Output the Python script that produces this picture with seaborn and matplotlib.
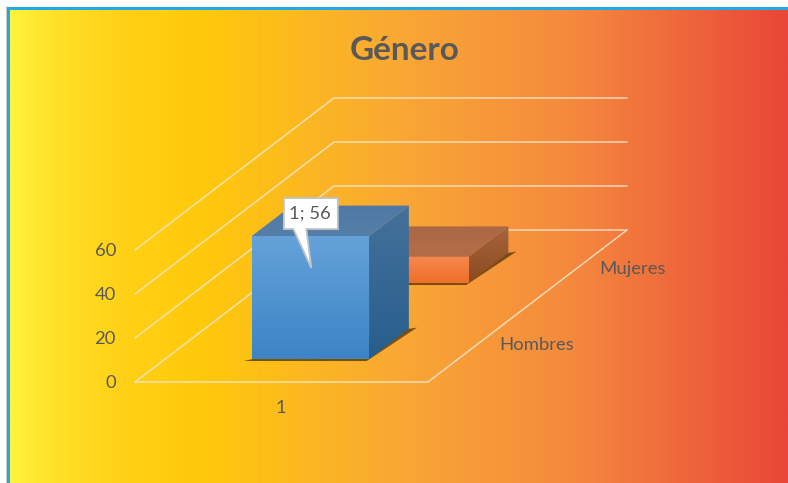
import numpy as np
import pandas as pd
import matplotlib.pyplot as plt
from matplotlib.colors import LinearSegmentedColormap
from matplotlib.patches import Polygon, Rectangle
import seaborn as sns

# chart values
category = "1"
series_names = ["Hombres", "Mujeres"]
series_values = [56, 12]
value_ticks = [0, 20, 40, 60]
data_label = "1; 56"
title = "Género"

sns.set_theme(style="white")
plt.rcParams["font.family"] = ["Lato", "DejaVu Sans"]
text_color = "#595959"

# oblique projection of the floor and walls, in pixels
origin = np.array([135.0, 382.0])
width_vec = np.array([293.0, 0.0])
depth_vec = np.array([199.0, -152.0])
px_per_unit = 2.2


def project(x, d, v):
    p = origin + x * width_vec + d * depth_vec
    return (p[0], p[1] - v * px_per_unit)


fig = plt.figure(figsize=(7.88, 4.83), dpi=100)
ax = fig.add_axes([0, 0, 1, 1])
ax.set_xlim(0, 788)
ax.set_ylim(483, 0)
ax.axis("off")

# background
bg = LinearSegmentedColormap.from_list(
    "bg",
    [(0, "#fff33b"), (0.06, "#ffe026"), (0.15, "#ffd015"), (0.25, "#ffc90c"),
     (0.5, "#f9a834"), (0.72, "#f58a3e"), (1, "#e94738")],
)
ax.imshow(np.linspace(0, 1, 780)[None, :], cmap=bg, extent=(9, 788, 483, 9), aspect="auto", zorder=0)
ax.add_patch(Rectangle((7, 7), 781, 2.6, fc="#22aae6", ec="none", zorder=1))
ax.add_patch(Rectangle((7, 7), 2.6, 476, fc="#22aae6", ec="none", zorder=1))
ax.add_patch(Rectangle((6.2, 6.4), 0.9, 476.6, fc="#c4c8ca", ec="none", zorder=1))
ax.set_xlim(0, 788)
ax.set_ylim(483, 0)

# floor and wall lines
rows = []
for i, v in enumerate(value_ticks):
    pts = [project(0, 0, v), project(0, 1, v), project(1, 1, v)]
    for p in pts:
        rows.append({"line": f"wall{i}", "x": p[0], "y": p[1]})
for p in [project(0, 0, 0), project(1, 0, 0), project(1, 1, 0)]:
    rows.append({"line": "floor", "x": p[0], "y": p[1]})
lines = pd.DataFrame(rows)
sns.lineplot(data=lines, x="x", y="y", units="line", estimator=None, sort=False,
             color="#f4e6cc", linewidth=1.1, alpha=0.85, legend=False, ax=ax, zorder=2)
ax.set_xlim(0, 788)
ax.set_ylim(483, 0)
ax.axis("off")


def face(points, top, bottom, zorder):
    # polygon filled with a vertical gradient
    xs = [p[0] for p in points]
    ys = [p[1] for p in points]
    cmap = LinearSegmentedColormap.from_list("f", [top, bottom])
    im = ax.imshow(np.linspace(0, 1, 64)[:, None], cmap=cmap, aspect="auto",
                   extent=(min(xs), max(xs), max(ys), min(ys)), zorder=zorder)
    im.set_clip_path(Polygon(points, transform=ax.transData))


faces = [
    {"front": ("#65a2d9", "#3c85c6"), "side": ("#44719b", "#285e8c"), "top": ("#4f79a4", "#567fa8")},
    {"front": ("#f7884f", "#f06f28"), "side": ("#a5653c", "#8c4a1f"), "top": ("#ab6845", "#b36d49")},
]

# the far series goes first so the near one covers it
for i in [1, 0]:
    d0 = 0.15 + 0.5 * i
    d1 = d0 + 0.2
    x0, x1 = 0.297, 0.697
    v = series_values[i]
    z = 3 + (1 - i) * 2
    # thin shadow on the floor
    shadow = [project(x0 - 0.02, d0 - 0.012, 0), project(x1, d0 - 0.012, 0),
              project(x1 + 0.022, d1 + 0.008, 0), project(x1, d1, 0), project(x0, d0, 0)]
    ax.add_patch(Polygon(shadow, fc="#5a3a08", ec="none", alpha=0.8, zorder=z))
    face([project(x1, d0, v), project(x1, d1, v), project(x1, d1, 0), project(x1, d0, 0)],
         *faces[i]["side"], z + 0.1)
    face([project(x0, d0, v), project(x1, d0, v), project(x1, d1, v), project(x0, d1, v)],
         *faces[i]["top"], z + 0.1)
    face([project(x0, d0, v), project(x1, d0, v), project(x1, d0, 0), project(x0, d0, 0)],
         *faces[i]["front"], z + 0.2)

ax.set_xlim(0, 788)
ax.set_ylim(483, 0)

# data label callout
tip = project(0.5, 0.15, series_values[0] * 0.74)
bx0, bx1 = tip[0] - 27.5, tip[0] + 26.5
by0, by1 = tip[1] - 70, tip[1] - 39
callout = [(bx0, by0), (bx1, by0), (bx1, by1), (tip[0] - 5, by1), tip, (tip[0] - 18, by1), (bx0, by1)]
ax.add_patch(Polygon(callout, fc="white", ec="#bfc3c6", lw=1.3, joinstyle="miter", zorder=10))
ax.text((bx0 + bx1) / 2 - 1, (by0 + by1) / 2, data_label, ha="center", va="center",
        fontsize=13.3, color=text_color, zorder=11)

# text
ax.text(404.5, 50, title, ha="center", va="center", fontsize=24, fontweight="bold", color=text_color)
for v in value_ticks:
    p = project(0, 0, v)
    ax.text(116, p[1] + 1, str(v), ha="right", va="center", fontsize=13.3, color=text_color)
ax.text(281, 408, category, ha="center", va="center", fontsize=13.3, color=text_color)
ax.text(537, 345, series_names[0], ha="center", va="center", fontsize=13.3, color=text_color)
ax.text(633, 269, series_names[1], ha="center", va="center", fontsize=13.3, color=text_color)

fig.savefig("out.png", dpi=100)
